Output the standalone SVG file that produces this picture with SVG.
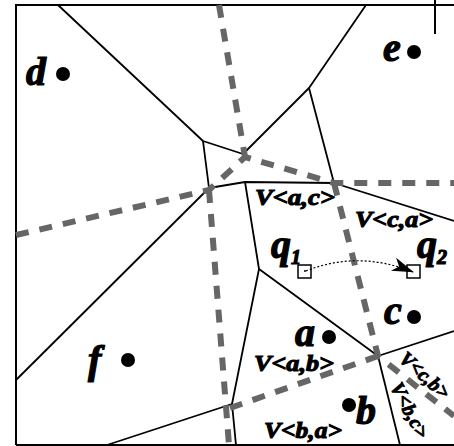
<svg xmlns="http://www.w3.org/2000/svg" width="454" height="446" viewBox="0 0 454 446">
<defs>
<style>
.edge{fill:none;stroke:#000;stroke-width:1.8;stroke-linejoin:round}
.frame{fill:none;stroke:#000;stroke-width:2}
.dash{fill:none;stroke:#666;stroke-width:6;stroke-dasharray:13 11}
.pt{font-family:"Liberation Serif","Times New Roman",serif;font-weight:bold;font-style:italic;font-size:40px;fill:#000;stroke:#000;stroke-width:1.2}
.lbl{font-family:"Liberation Serif","Times New Roman",serif;font-weight:bold;font-style:italic;font-size:24px;fill:#000;stroke:#000;stroke-width:1.1}
.lbls{font-family:"Liberation Serif","Times New Roman",serif;font-weight:bold;font-style:italic;font-size:20px;fill:#000;stroke:#000;stroke-width:0.9}
.dot{fill:#000}
</style>
<marker id="ah" markerWidth="22" markerHeight="14" refX="21" refY="7" orient="auto" markerUnits="userSpaceOnUse" viewBox="0 0 22 14">
<path d="M0,0 L22,7 L0,14 L6,7 z" fill="#000"/>
</marker>
</defs>
<rect x="0" y="0" width="454" height="446" fill="#fff"/>
<g id="frame">
<path class="frame" d="M16,445 L16,5 L454,5"/>
<path class="frame" d="M16,445 L454,445"/>
<path class="frame" d="M435,0 L435,34"/>
</g>
<g id="connectors">
<path class="edge" d="M58,5 L203,141 L243,154 L309,88 L366,5"/>
<path class="edge" d="M203,141 L209,188 L245,182 L334,183 L309,88"/>
<path class="edge" d="M334,183 L454,221"/>
<path class="edge" d="M209,188 L16,380"/>
<path class="edge" d="M245,182 L259,269 L232,404 L236,445"/>
<path class="edge" d="M232,404 L107,445"/>
<path class="edge" d="M259,269 L378,356 L454,331"/>
<path class="edge" d="M378,356 L400,445"/>
<path class="dash" d="M219,5 L245,157"/>
<path class="dash" d="M16,235 L209,190 L245,157 L334,183 L454,183"/>
<path class="dash" d="M209,190 L229,445"/>
<path class="dash" d="M334,183 L378,356 L454,416"/>
<path class="dash" d="M378,356 L230,408"/>
</g>
<g id="d"><circle class="dot" cx="63" cy="74" r="7"/><text class="pt" x="26" y="85">d</text></g>
<g id="e"><circle class="dot" cx="414" cy="52" r="7"/><text class="pt" x="383" y="61">e</text></g>
<g id="f"><circle class="dot" cx="128" cy="360" r="7"/><text class="pt" x="88" y="373">f</text></g>
<g id="a"><circle class="dot" cx="329" cy="337" r="7"/><text class="pt" x="295" y="346">a</text></g>
<g id="c"><circle class="dot" cx="414" cy="317" r="7"/><text class="pt" x="384" y="324">c</text></g>
<g id="b"><circle class="dot" cx="349" cy="405" r="7"/><text class="pt" x="356" y="424">b</text></g>
<g id="q1"><rect x="298" y="265" width="13" height="13" fill="#fff" stroke="#000" stroke-width="1.5"/><circle cx="305" cy="271" r="1" fill="#000"/><text class="pt" x="271" y="258">q<tspan font-size="20" dy="6">1</tspan></text></g>
<g id="q2"><rect x="407" y="265" width="13" height="13" fill="#fff" stroke="#000" stroke-width="1.5"/><text class="pt" x="417" y="258">q<tspan font-size="20" dy="6">2</tspan></text></g>
<g id="arrow"><path d="M306,271 Q358,250 413,272" fill="none" stroke="#000" stroke-width="1.2" stroke-dasharray="2 2" marker-end="url(#ah)"/></g>
<g id="labels">
<text class="lbl" x="255" y="205" textLength="80" lengthAdjust="spacingAndGlyphs">V&lt;a,c&gt;</text>
<text class="lbl" x="355" y="227" textLength="78" lengthAdjust="spacingAndGlyphs">V&lt;c,a&gt;</text>
<text class="lbl" x="254" y="371" textLength="80" lengthAdjust="spacingAndGlyphs">V&lt;a,b&gt;</text>
<text class="lbl" x="264" y="438" textLength="78" lengthAdjust="spacingAndGlyphs">V&lt;b,a&gt;</text>
<text class="lbls" text-anchor="middle" transform="translate(425,375) rotate(42)" y="7">V&lt;c,b&gt;</text>
<text class="lbls" text-anchor="middle" transform="translate(410,410) rotate(62)" y="7">V&lt;b,c&gt;</text>
</g>
</svg>
